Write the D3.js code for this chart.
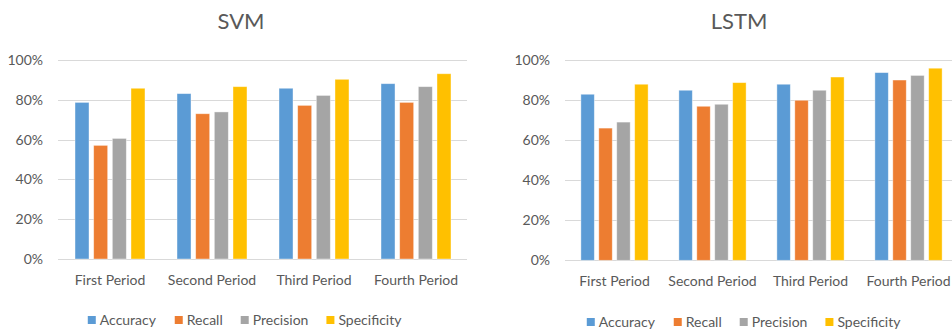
<!DOCTYPE html>
<html>
<head>
<meta charset="utf-8">
<script src="https://cdn.jsdelivr.net/npm/d3@7"></script>
<style>
  html, body { margin: 0; padding: 0; background: #fff; }
  svg { display: block; }
  text { font-family: Lato, "Open Sans", sans-serif; fill: #595959; }
</style>
</head>
<body>
<svg id="chart" width="952" height="331"></svg>
<script>
// Periods and metrics shared by both panels
const categories = ["First Period", "Second Period", "Third Period", "Fourth Period"];
const metrics = ["Accuracy", "Recall", "Precision", "Specificity"];
const colors = ["#5B9BD5", "#ED7D31", "#A5A5A5", "#FFC000"];
const yTicks = [0, 0.2, 0.4, 0.6, 0.8, 1.0];

// SVM results (%)
const svmAccuracy    = [78.7, 83.1, 85.8, 88.1];
const svmRecall      = [57.1, 73.0, 77.2, 78.7];
const svmPrecision   = [60.6, 73.9, 82.2, 86.6];
const svmSpecificity = [85.8, 86.6, 90.3, 93.1];

// LSTM results (%)
const lstmAccuracy    = [82.9, 84.9, 87.9, 93.7];
const lstmRecall      = [66.0, 76.9, 79.9, 90.0];
const lstmPrecision   = [69.0, 77.9, 84.9, 92.3];
const lstmSpecificity = [87.9, 88.7, 91.5, 95.9];

const svg = d3.select("#chart");

function drawPanel(opts) {
  const { title, series, xRange, yRange, titleX, labelY, legendCx, legendY, gridX } = opts;
  const g = svg.append("g");

  const x0 = d3.scaleBand().domain(categories).range(xRange).paddingInner(0.314).paddingOuter(0.157);
  const x1 = d3.scaleBand().domain(metrics).range([0, x0.bandwidth()]).paddingInner(0.25).paddingOuter(0);
  const y = d3.scaleLinear().domain([0, 1]).range(yRange);

  // title
  g.append("text")
    .attr("x", titleX).attr("y", 29)
    .attr("text-anchor", "middle")
    .style("font-size", "22px")
    .text(title);

  // gridlines
  g.append("g").selectAll("line").data(yTicks).join("line")
    .attr("x1", gridX[0]).attr("x2", gridX[1])
    .attr("y1", d => Math.round(y(d)) + 0.5).attr("y2", d => Math.round(y(d)) + 0.5)
    .attr("stroke", "#D9D9D9").attr("stroke-width", 1);

  // y axis labels
  const yAxis = d3.axisLeft(y).tickValues(yTicks).tickFormat(d3.format(".0%")).tickSize(0).tickPadding(0);
  const ya = g.append("g").attr("transform", `translate(${gridX[0] - 15},0)`).call(yAxis);
  ya.select(".domain").remove();
  ya.selectAll("text").style("font-size", "14px").attr("fill", "#595959").style("font-family", "Lato, sans-serif");

  // bars
  const rows = [];
  categories.forEach((c, i) => metrics.forEach((m, j) => rows.push({ c, m, j, v: series[j][i] / 100 })));
  g.append("g").selectAll("rect").data(rows).join("rect")
    .attr("x", d => x0(d.c) + x1(d.m))
    .attr("y", d => y(d.v))
    .attr("width", x1.bandwidth())
    .attr("height", d => y(0) - y(d.v))
    .attr("fill", d => colors[d.j])
    .attr("stroke", "#ffffff").attr("stroke-opacity", 0.5).attr("stroke-width", 0.8);

  // category labels
  const xAxis = d3.axisBottom(x0).tickSize(0).tickPadding(0);
  const xa = g.append("g").attr("transform", `translate(0,${labelY})`).call(xAxis);
  xa.select(".domain").remove();
  xa.selectAll("text").style("font-size", "14px").attr("fill", "#595959").style("font-family", "Lato, sans-serif").attr("dy", "0");

  // legend
  const lg = g.append("g");
  const items = lg.selectAll("g").data(metrics).join("g");
  items.append("rect").attr("width", 8).attr("height", 8).attr("y", legendY - 4).attr("fill", (d, i) => colors[i]);
  items.append("text").attr("x", 12).attr("y", legendY).attr("dy", "0.35em")
    .style("font-size", "14px").text(d => d);
  let cx = 0;
  items.each(function () {
    const w = this.getBBox().width;
    d3.select(this).attr("transform", `translate(${cx},0)`);
    cx += w + 18;
  });
  const total = cx - 18;
  lg.attr("transform", `translate(${legendCx - total / 2},0)`);
}

drawPanel({
  title: "SVM",
  series: [svmAccuracy, svmRecall, svmPrecision, svmSpecificity],
  xRange: [59, 467], yRange: [259, 60],
  gridX: [58, 467], titleX: 241, labelY: 285, legendCx: 245, legendY: 320
});

drawPanel({
  title: "LSTM",
  series: [lstmAccuracy, lstmRecall, lstmPrecision, lstmSpecificity],
  xRange: [565.5, 957.5], yRange: [260.3, 60],
  gridX: [565, 952], titleX: 739, labelY: 286, legendCx: 744, legendY: 322
});
</script>
</body>
</html>
